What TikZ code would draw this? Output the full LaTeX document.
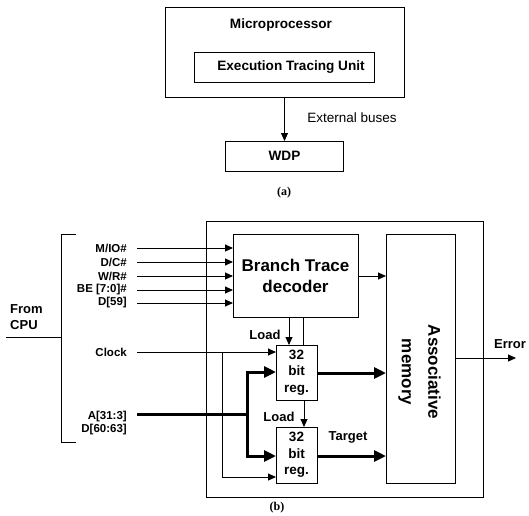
\documentclass[tikz,border=0pt]{standalone}
\usepackage{fontspec}
\setmainfont{Liberation Sans}
\newfontfamily\capfont{Liberation Serif}
\usetikzlibrary{arrows.meta}
\begin{document}
\begin{tikzpicture}[x=1pt,y=-1pt,
  box/.style={draw,line width=0.9pt,inner sep=0pt,outer sep=0pt},
  thinl/.style={line width=0.9pt},
  thk/.style={line width=3pt},
  arr/.style={thinl,-{Triangle[length=8pt,width=7pt]}},
  tarr/.style={thk,-{Triangle[length=12pt,width=11pt]}},
  sig/.style={font=\fontsize{11.5}{13}\selectfont\bfseries,inner sep=0pt,anchor=east},
  lab/.style={font=\fontsize{13}{16}\selectfont\bfseries,inner sep=0pt},
  big/.style={font=\fontsize{17}{21}\selectfont\bfseries,align=center},
  regtxt/.style={font=\fontsize{13.5}{16.5}\selectfont\bfseries,align=center},
  captxt/.style={font=\capfont\fontsize{12}{14}\selectfont\bfseries,inner sep=0pt}]
\useasboundingbox (0,0) rectangle (529,515);
% ---------- (a)
\node[box,minimum width=239pt,minimum height=90pt] (mp) at (284.5,52) {};
\node[lab,font=\fontsize{13.6}{16}\selectfont\bfseries] (mptxt) at (281,25) {Microprocessor};
\node[box,minimum width=180pt,minimum height=30pt] (etu) at (284,67) {};
\node[lab,font=\fontsize{13.6}{16}\selectfont\bfseries] (etutxt) at (291,67) {Execution Tracing Unit};
\node[box,minimum width=118pt,minimum height=30pt,font=\fontsize{13.6}{16}\selectfont\bfseries] (wdp) at (284.5,156) {WDP};
\draw[arr] (mp.south) -- (wdp.north);
\node[font=\fontsize{13.5}{16}\selectfont,inner sep=0pt] (ext) at (352,118) {External buses};
\node[captxt] (capa) at (284,193) {(a)};
% ---------- (b)
\node[box,minimum width=277pt,minimum height=276pt] (outer) at (344.5,359) {};
\node[box,minimum width=125pt,minimum height=83pt,big] (btd) at (295.5,275.5) {Branch Trace\\decoder};
\node[box,minimum width=69pt,minimum height=249pt] (am) at (420.5,358.5) {};
\node[big,rotate=-90,font=\fontsize{17}{26.5}\selectfont\bfseries] (amtxt) at (419.5,372) {Associative\\memory};
\node[box,minimum width=41pt,minimum height=55pt,regtxt] (r1) at (296.5,372.5) {32\\bit\\reg.};
\node[box,minimum width=41pt,minimum height=56pt,regtxt] (r2) at (296.5,455) {32\\bit\\reg.};
% bracket
\coordinate (bt) at (76,234);
\coordinate (bb) at (76,442);
\coordinate (bm) at (61,337);
\coordinate (fc) at (6,337);
\draw[thinl] (bt) -- (61,234) -- (61,442) -- (bb);
\draw[thinl] (fc) -- (bm);
\node[lab,anchor=west,align=left] (from) at (10,317) {From\\CPU};
% signals
\foreach \t/\y/\n in {{M/IO\#}/248/s1,{D/C\#}/262/s2,{W/R\#}/276/s3,{BE [7:0]\#}/290/s4,{D[59]}/303/s5}{
  \node[sig] (\n t) at (127,\y) {\t};
  \coordinate (\n) at (137,\y);
  \draw[arr] (\n) -- (\n -| btd.west);
}
\draw[arr] (btd.east |- 0,276) -- (am.west |- 0,276);
% loads
\draw[arr] (btd.south -| 289,0) -- (r1.north -| 289,0);
\draw[thinl] (btd.south -| 303,0) -- (r1.north -| 303,0);
\node[lab] (load1) at (265,335) {Load};
\draw[arr] (r1.south -| 304,0) -- (r2.north -| 304,0);
\node[lab] (load2) at (279,417) {Load};
% clock
\node[sig] (clkt) at (127,352) {Clock};
\coordinate (clk) at (137,352);
\coordinate (clkb) at (222,352);
\draw[arr] (clk) -- (clk -| r1.west);
\draw[arr] (clkb) -- (222,477) -- (r2.west |- 0,477);
% bus
\node[sig,align=right] (bust) at (127,423.5) {A[31:3]\\D[60:63]};
\coordinate (bus) at (137,414);
\coordinate (busj) at (247,414);
\draw[thk] (bus) -- (busj);
\draw[tarr] (busj) -- (247,372) -- (r1.west |- 0,372);
\draw[tarr] (busj) -- (247,456) -- (r2.west |- 0,456);
\draw[tarr] (r1.east |- 0,373) -- (am.west |- 0,373);
\draw[tarr] (r2.east |- 0,456) -- (am.west |- 0,456);
\node[lab] (target) at (348,437) {Target};
% error
\coordinate (err) at (516,358);
\draw[arr] (am.east |- err) -- (err);
\node[lab] (errt) at (510,344) {Error};
\node[captxt] (capb) at (277,508) {(b)};
\end{tikzpicture}
\end{document}
